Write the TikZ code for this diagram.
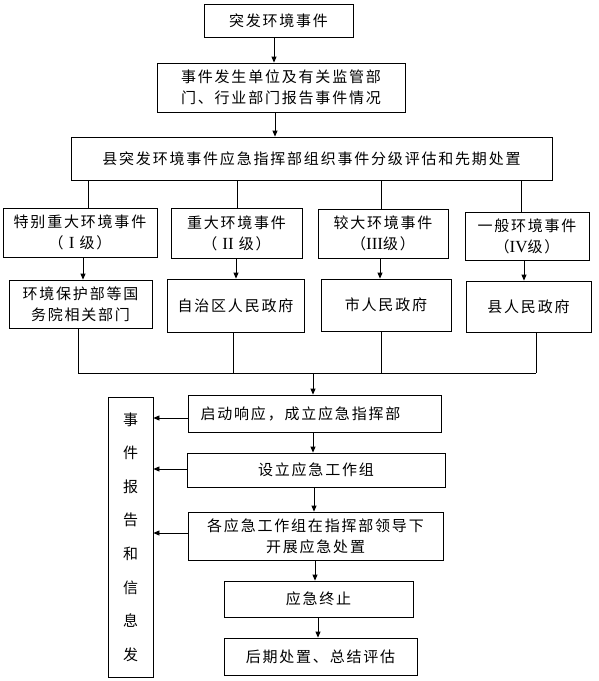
\documentclass[tikz,border=0pt]{standalone}
\usepackage{fontspec}
\setmainfont{Liberation Serif}
\newfontfamily\cjk{Noto Sans CJK SC}[LetterSpace=12]
\newcommand{\romn}[1]{{\rmfamily\fontsize{17}{21}\selectfont #1}}
\usetikzlibrary{arrows.meta}
\begin{document}
\begin{tikzpicture}[x=1pt,y=-1pt,
  box/.style={draw,line width=0.8pt,inner sep=0pt,align=center,
    font=\cjk\fontsize{15}{21}\selectfont},
  line/.style={line width=0.8pt},
  arr/.style={line width=0.8pt,-{Triangle[length=6pt,width=5pt]}}]
\useasboundingbox (0,0) rectangle (599,681);
% top chain
\node[box,minimum width=149,minimum height=33] (b1) at (278.5,20.5) {突发环境事件};
\node[box,minimum width=248,minimum height=49] (b2) at (281,87.5) {事件发生单位及有关监管部\\门、行业部门报告事件情况};
\node[box,minimum width=481,minimum height=43] (b3) at (311.5,158.5) {县突发环境事件应急指挥部组织事件分级评估和先期处置};
% level boxes
\node[box,minimum width=154,minimum height=49] (A) at (80,232.5) {特别重大环境事件\\（ \romn{I} 级）};
\node[box,minimum width=131,minimum height=50] (B) at (236.5,233) {重大环境事件\\（ \romn{II} 级）};
\node[box,minimum width=130,minimum height=49] (C) at (383,233.5) {较大环境事件\\（\romn{III}级）};
\node[box,minimum width=124,minimum height=48] (D) at (527,236) {一般环境事件\\（\romn{IV}级）};
% responsible bodies
\node[box,minimum width=143,minimum height=48] (A2) at (80.5,304) {环境保护部等国\\务院相关部门};
\node[box,minimum width=137,minimum height=53] (B2) at (235.5,305.5) {自治区人民政府};
\node[box,minimum width=130,minimum height=52] (C2) at (386,305) {市人民政府};
\node[box,minimum width=125,minimum height=51] (D2) at (528.5,306.5) {县人民政府};
% response chain
\node[box,minimum width=45,minimum height=280,font=\cjk\fontsize{15}{33.6}\selectfont] (L) at (130.5,537) {事\\件\\报\\告\\和\\信\\息\\发};
\node[box,minimum width=253,minimum height=37] (E1) at (314.5,413.5) {启动响应，成立应急指挥部\hspace{28pt}};
\node[box,minimum width=258,minimum height=34] (E2) at (316,470) {设立应急工作组};
\node[box,minimum width=255,minimum height=48] (E3) at (315.5,536) {各应急工作组在指挥部领导下\\开展应急处置};
\node[box,minimum width=189,minimum height=36] (E4) at (318.5,599) {应急终止};
\node[box,minimum width=193,minimum height=37] (E5) at (320.5,656.5) {后期处置、总结评估};
% bus coordinates
\coordinate (busL) at (78,373);
\coordinate (busR) at (536,373);
\coordinate (busM) at (313,373);
% arrows top
\draw[arr] (b1.south -| 274,0) -- (b2.north -| 274,0);
\draw[arr] (b2.south -| 275,0) -- (b3.north -| 275,0);
% lines to level boxes
\draw[line] (b3.south -| 88,0) -- (A.north -| 88,0);
\draw[line] (b3.south -| 237,0) -- (B.north -| 237,0);
\draw[line] (b3.south -| 381,0) -- (C.north -| 381,0);
\draw[line] (b3.south -| 521,0) -- (D.north -| 521,0);
% arrows level to bodies
\draw[arr] (A.south -| 83,0) -- (A2.north -| 83,0);
\draw[arr] (B.south -| 236,0) -- (B2.north -| 236,0);
\draw[arr] (C.south -| 380,0) -- (C2.north -| 380,0);
\draw[arr] (D.south -| 524,0) -- (D2.north -| 524,0);
% lines to bus
\draw[line] (A2.south -| busL) -- (busL);
\draw[line] (B2.south -| 233,0) -- (busL -| 233,0);
\draw[line] (C2.south -| 381,0) -- (busL -| 381,0);
\draw[line] (D2.south -| busR) -- (busR);
\draw[line] (busL) -- (busR);
\draw[arr] (busM) -- (E1.north -| busM);
% response chain arrows
\draw[arr] (E1.south -| 313,0) -- (E2.north -| 313,0);
\draw[arr] (E2.south -| 314,0) -- (E3.north -| 314,0);
\draw[arr] (E3.south -| 315,0) -- (E4.north -| 315,0);
\draw[arr] (E4.south -| 318,0) -- (E5.north -| 318,0);
% left arrows
\draw[arr] (E1.west |- 0,418) -- (L.east |- 0,418);
\draw[arr] (E2.west |- 0,469) -- (L.east |- 0,469);
\draw[arr] (E3.west |- 0,533) -- (L.east |- 0,533);
\end{tikzpicture}
\end{document}
